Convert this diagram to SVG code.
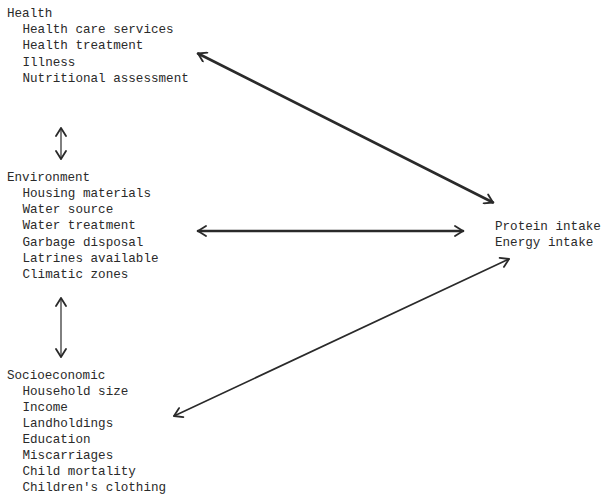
<svg xmlns="http://www.w3.org/2000/svg" width="611" height="494" viewBox="0 0 611 494">
<style>
text{font-family:"Liberation Mono","DejaVu Sans Mono",monospace;font-size:12.6px;fill:#2a2a2a}
.c{fill:none;stroke:#2a2a2a;stroke-linecap:round}
.thick{stroke-width:2.6}
.mid{stroke-width:1.6}
.thin{stroke-width:1.2}
</style>
<defs>
<marker id="ah" viewBox="0 0 12 12" refX="10" refY="6" markerWidth="12" markerHeight="12" markerUnits="userSpaceOnUse" orient="auto-start-reverse">
<path d="M2,1 L10,6 L2,11" fill="none" stroke="#2a2a2a" stroke-width="1.8" stroke-linecap="round" stroke-linejoin="round"/>
</marker>
</defs>
<rect width="611" height="494" fill="#ffffff"/>
<g id="health">
<text x="7" y="16.5">Health</text>
<text x="22.5" y="33">Health care services</text>
<text x="22.5" y="49.3">Health treatment</text>
<text x="22.5" y="65.6">Illness</text>
<text x="22.5" y="82">Nutritional assessment</text>
</g>
<g id="environment">
<text x="7" y="180.5">Environment</text>
<text x="22.5" y="196.8">Housing materials</text>
<text x="22.5" y="213.1">Water source</text>
<text x="22.5" y="229.4">Water treatment</text>
<text x="22.5" y="245.7">Garbage disposal</text>
<text x="22.5" y="262">Latrines available</text>
<text x="22.5" y="278.3">Climatic zones</text>
</g>
<g id="socioeconomic">
<text x="7" y="378.5">Socioeconomic</text>
<text x="22.5" y="394.6">Household size</text>
<text x="22.5" y="410.7">Income</text>
<text x="22.5" y="426.8">Landholdings</text>
<text x="22.5" y="442.9">Education</text>
<text x="22.5" y="459">Miscarriages</text>
<text x="22.5" y="475.1">Child mortality</text>
<text x="22.5" y="491.2">Children's clothing</text>
</g>
<g id="intake">
<text x="495" y="229.5">Protein intake</text>
<text x="495" y="245.5">Energy intake</text>
</g>
<g id="connectors">
<line class="c thin" x1="61" y1="128" x2="61" y2="159" marker-start="url(#ah)" marker-end="url(#ah)"/>
<line class="c thin" x1="61" y1="298" x2="61" y2="357" marker-start="url(#ah)" marker-end="url(#ah)"/>
<line class="c thick" x1="198" y1="53.5" x2="493" y2="202.5" marker-start="url(#ah)" marker-end="url(#ah)"/>
<line class="c thick" x1="198" y1="231" x2="463" y2="231" marker-start="url(#ah)" marker-end="url(#ah)"/>
<line class="c mid" x1="174" y1="416" x2="509" y2="259" marker-start="url(#ah)" marker-end="url(#ah)"/>
</g>
</svg>
